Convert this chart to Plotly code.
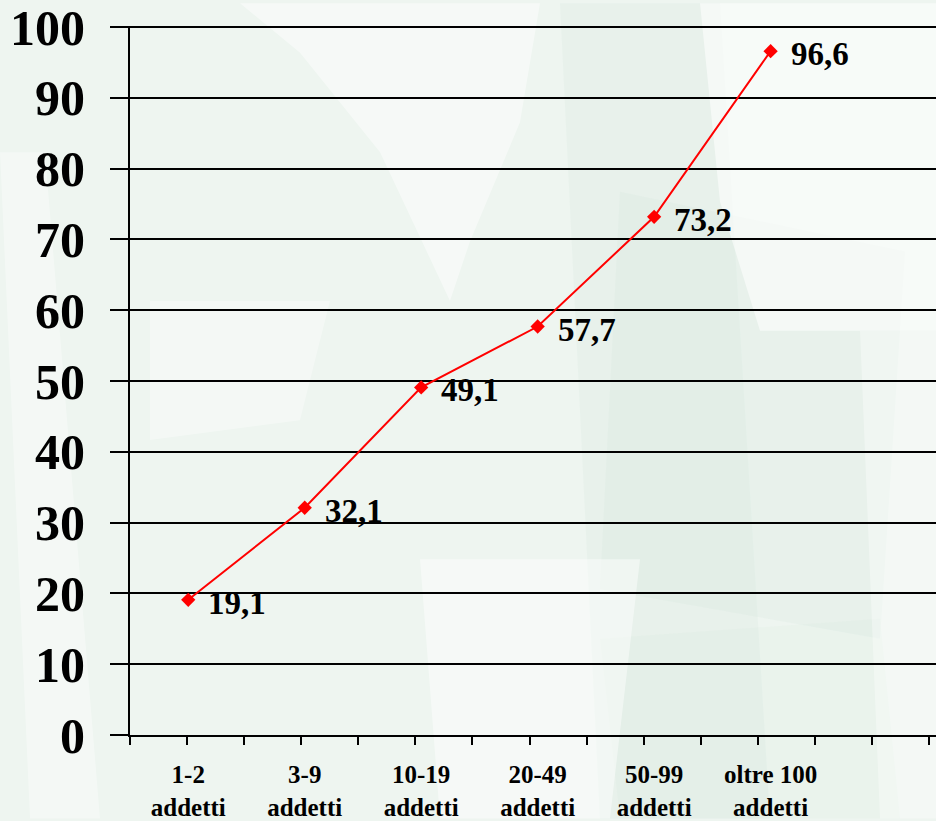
import plotly.graph_objects as go

# Percentuale per classe di addetti
classi = ["1-2<br>addetti", "3-9<br>addetti", "10-19<br>addetti",
          "20-49<br>addetti", "50-99<br>addetti", "oltre 100<br>addetti"]
valori = [19.1, 32.1, 49.1, 57.7, 73.2, 96.6]
y_ticks = [0, 10, 20, 30, 40, 50, 60, 70, 80, 90, 100]

pos = list(range(len(classi)))
SERIF = "Liberation Serif, Times New Roman, serif"

W, H = 936, 821
L, R, T, B = 130, 0, 23, 84
PW, PH = W - L - R, H - T - B


def px(x, y):
    """Page pixel -> paper coordinates (for the decorative backdrop)."""
    return (x - L) / PW, (H - B - y) / PH


def poly(points):
    pts = [px(x, y) for x, y in points]
    return "M " + " L ".join(f"{a:.4f},{b:.4f}" for a, b in pts) + " Z"


backdrop = [
    # soft green tinted panels
    (poly([(560, 0), (720, 0), (770, 821), (600, 821)]), "rgba(205,228,214,0.18)"),
    (poly([(620, 190), (905, 250), (880, 640), (600, 590)]), "rgba(205,228,214,0.18)"),
    (poly([(600, 640), (880, 620), (900, 821), (620, 821)]), "rgba(205,228,214,0.12)"),
    # light sweeping bands
    (poly([(240, 0), (540, 0), (520, 120), (470, 240), (450, 300), (380, 150), (300, 50)]), "rgba(255,255,255,0.45)"),
    (poly([(700, 0), (936, 0), (936, 330), (760, 330), (720, 200)]), "rgba(255,255,255,0.55)"),
    (poly([(0, 150), (45, 150), (100, 821), (30, 821)]), "rgba(255,255,255,0.35)"),
    (poly([(150, 300), (330, 300), (300, 420), (150, 440)]), "rgba(255,255,255,0.35)"),
    (poly([(420, 560), (640, 560), (610, 821), (440, 821)]), "rgba(255,255,255,0.45)"),
    (poly([(860, 330), (936, 330), (936, 821), (880, 821)]), "rgba(255,255,255,0.35)"),
]

shapes = [
    dict(type="path", path=p, xref="paper", yref="paper", fillcolor=c,
         line=dict(width=0), layer="below")
    for p, c in backdrop
]

fig = go.Figure()

fig.add_trace(go.Scatter(
    x=pos, y=valori, mode="lines+markers",
    line=dict(color="#ff0000", width=2),
    marker=dict(symbol="diamond", size=11, color="#ff0000"),
    hoverinfo="skip", showlegend=False,
))

# carrier trace for the category label axis
fig.add_trace(go.Scatter(
    x=pos, y=valori, xaxis="x2", mode="markers",
    marker=dict(opacity=0), hoverinfo="skip", showlegend=False,
))

annotations = [
    dict(x=xi, y=v, xref="x", yref="y", text=f"{v:.1f}".replace(".", ","),
         showarrow=False, xanchor="left", yanchor="middle", xshift=18, yshift=-3,
         font=dict(family=SERIF, size=33, color="black", weight="bold"))
    for xi, v in zip(pos, valori)
]

x_range = [-0.5, 6.42]

fig.update_layout(
    width=W, height=H,
    margin=dict(l=L, r=R, t=T, b=B, pad=0),
    paper_bgcolor="#eef5f0",
    plot_bgcolor="rgba(0,0,0,0)",
    shapes=shapes,
    annotations=annotations,
    xaxis=dict(
        range=x_range, showgrid=False, zeroline=False,
        showline=True, linecolor="black", linewidth=2,
        tickmode="linear", tick0=-0.5, dtick=0.49,
        ticks="outside", ticklen=8, tickwidth=2, tickcolor="black",
        showticklabels=False,
    ),
    xaxis2=dict(
        range=x_range, overlaying="x", anchor="y", side="bottom",
        showgrid=False, zeroline=False, showline=False,
        tickmode="array", tickvals=pos, ticktext=classi, ticks="",
        ticklabelstandoff=22, ticklabeloverflow="allow",
        tickfont=dict(family=SERIF, size=25, color="black", weight="bold"),
    ),
    yaxis=dict(
        range=[0, 100.15], tickmode="array", tickvals=y_ticks,
        showgrid=True, gridcolor="black", gridwidth=2,
        zeroline=False, showline=True, linecolor="black", linewidth=2,
        ticks="outside", ticklen=18, tickwidth=2, tickcolor="black",
        ticklabelstandoff=15, ticklabeloverflow="allow",
        tickfont=dict(family=SERIF, size=50, color="black", weight="bold"),
    ),
)

fig.write_html("out.html")
